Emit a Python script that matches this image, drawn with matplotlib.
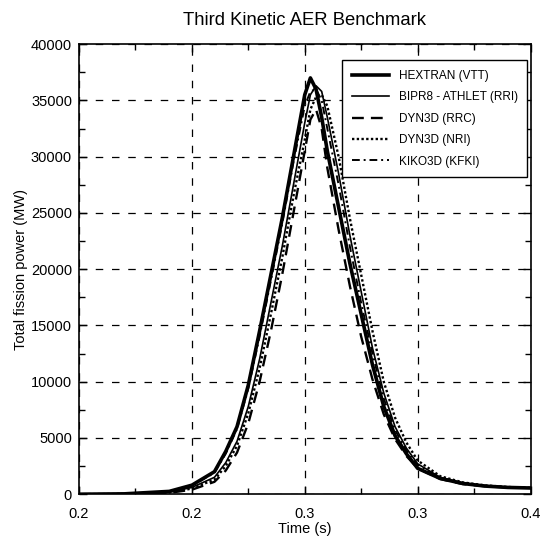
import matplotlib
matplotlib.use("Agg")
import matplotlib.pyplot as plt
from matplotlib.ticker import MultipleLocator, FixedLocator, FixedFormatter

plt.rcParams['font.family'] = ['Liberation Sans', 'DejaVu Sans']

time = [0.20, 0.22, 0.24, 0.25, 0.26, 0.265, 0.27, 0.275, 0.28, 0.285, 0.29, 0.295,
        0.30, 0.3025, 0.305, 0.3075, 0.31, 0.315, 0.32, 0.325, 0.33, 0.335, 0.34,
        0.345, 0.35, 0.36, 0.37, 0.38, 0.39, 0.40]

hextran = [0, 30, 250, 800, 2000, 3800, 6000, 9700, 14500, 19500, 24500, 30000,
           35500, 37000, 36000, 33500, 30500, 25500, 20500, 16000, 11500, 7800, 5200,
           3600, 2300, 1400, 950, 720, 600, 550]
bipr8 = [0, 20, 180, 600, 1500, 2800, 4700, 7800, 12000, 17000, 22000, 27500,
         33000, 35500, 36300, 35800, 33500, 28500, 23000, 18000, 13000, 9000, 6000,
         4100, 2700, 1500, 1000, 750, 620, 560]
dyn3d_rrc = [0, 15, 120, 400, 1100, 2100, 3700, 6300, 10000, 14500, 19500, 25000,
             30500, 33300, 34200, 32500, 29000, 23500, 18500, 14000, 10200, 7100, 4900,
             3400, 2300, 1350, 900, 700, 600, 550]
dyn3d_nri = [0, 15, 150, 500, 1300, 2500, 4300, 7200, 11200, 16000, 21000, 26500,
             31500, 34200, 35300, 35500, 34500, 30000, 24500, 19500, 14500, 10000, 6800,
             4600, 3000, 1600, 1050, 780, 640, 570]
kiko3d = [0, 25, 230, 750, 1900, 3600, 5800, 9400, 14000, 19000, 24000, 29500,
          34500, 35800, 36000, 35000, 32500, 27500, 22000, 17000, 12500, 8500, 5700,
          3900, 2600, 1450, 980, 740, 610, 555]

labels = ["HEXTRAN (VTT)", "BIPR8 - ATHLET (RRI)", "DYN3D (RRC)", "DYN3D (NRI)", "KIKO3D (KFKI)"]
x_ticks = [0.20, 0.25, 0.30, 0.35, 0.40]
x_ticklabels = ["0.2", "0.2", "0.3", "0.3", "0.4"]

fig = plt.figure(figsize=(5.44, 5.36), dpi=100)
ax = fig.add_axes([0.1452, 0.078, 0.830, 0.8396])

ax.plot(time, hextran, color='black', lw=2.6, ls='-', label=labels[0])
ax.plot(time, bipr8, color='black', lw=1.2, ls='-', label=labels[1])
ax.plot(time, dyn3d_rrc, color='black', lw=1.7, ls=(0, (5, 3)), label=labels[2])
ax.plot(time, dyn3d_nri, color='black', lw=1.7, ls=(0, (1, 1)), label=labels[3])
ax.plot(time, kiko3d, color='black', lw=1.4, ls=(0, (4, 2, 1, 2)), label=labels[4])

ax.set_xlim(0.2, 0.4)
ax.set_ylim(0, 40000)
ax.xaxis.set_major_locator(FixedLocator(x_ticks))
ax.xaxis.set_major_formatter(FixedFormatter(x_ticklabels))
ax.xaxis.set_minor_locator(MultipleLocator(0.025))
ax.yaxis.set_major_locator(MultipleLocator(5000))
ax.yaxis.set_minor_locator(MultipleLocator(2500))
ax.tick_params(which='both', direction='in', top=True, right=True, labelsize=10.5, width=1.0)
ax.tick_params(which='major', length=6)
ax.tick_params(which='minor', length=4)
ax.tick_params(axis='x', which='major', pad=9)
ax.tick_params(axis='y', which='major', pad=5)
ax.grid(True, which='major', color='black', ls=(0, (6, 7)), lw=0.9)
for s in ax.spines.values():
    s.set_linewidth(1.2)

ax.set_title("Third Kinetic AER Benchmark", fontsize=13.3, pad=14)
ax.set_xlabel("Time (s)", fontsize=10.5, labelpad=1)
ax.set_ylabel("Total fission power (MW)", fontsize=10.5, labelpad=2)

leg = ax.legend(loc='upper right', fontsize=8.5, frameon=True, fancybox=False,
                edgecolor='black', framealpha=1, handlelength=3.2, labelspacing=0.8,
                borderpad=0.8, borderaxespad=0, bbox_to_anchor=(0.993, 0.964))
leg.get_frame().set_linewidth(1.0)

fig.savefig("out.png", dpi=100)
